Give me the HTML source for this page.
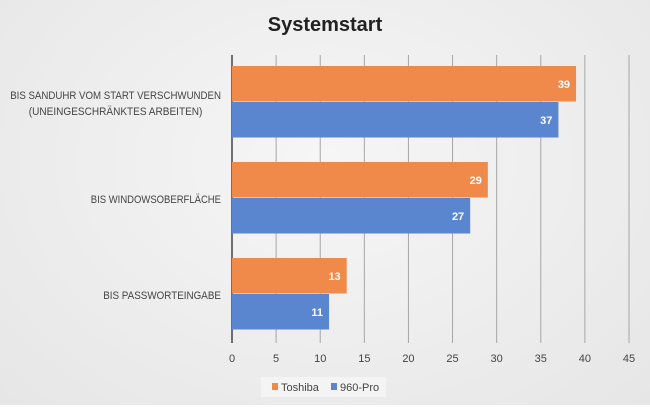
<!DOCTYPE html>
<html><head><meta charset="utf-8"><style>
body{margin:0;width:650px;height:405px;overflow:hidden;font-family:"Liberation Sans",sans-serif}
#c{position:absolute;left:0;top:0;width:650px;height:405px;background:radial-gradient(ellipse at 50% 40%,#f6f6f6 0%,#e6e6e6 100%)}
</style></head><body>
<div id="c">
<svg id="s" width="650" height="405"></svg>
</div>
<script>
const categories=["BIS SANDUHR VOM START VERSCHWUNDEN|(UNEINGESCHRÄNKTES ARBEITEN)","BIS WINDOWSOBERFLÄCHE","BIS PASSWORTEINGABE"];
const toshiba=[39,29,13];
const pro960=[37,27,11];
const ticks=[0,5,10,15,20,25,30,35,40,45];
const NS="http://www.w3.org/2000/svg";
const s=document.getElementById('s');
function mk(t,a,txt){const e=document.createElementNS(NS,t);for(const k in a)e.setAttribute(k,a[k]);if(txt!=null)e.textContent=txt;s.appendChild(e);return e;}
const x0=232,x1=629,yTop=55,yBot=343;
const xs=v=>x0+(v-0)/(45-0)*(x1-x0);
const gh=(yBot-yTop)/categories.length;
let t=mk('text',{x:325,y:31,'text-anchor':'middle','font-size':20,'font-weight':'bold',fill:'#222'},'Systemstart');


ticks.forEach(v=>{
 let l=mk('line',{x1:xs(v),x2:xs(v),y1:yTop,y2:yBot,stroke:v===0?'#444':'#a6a6a6','stroke-width':v===0?1.5:1});
 
 
 let tl=mk('text',{x:xs(v),y:362,'text-anchor':'middle','font-size':11,fill:'#444'},v);
 
 
});
categories.forEach((c,i)=>{
 const gy=yTop+gh*i, bh=35.5, y1=gy+11, y2=y1+bh+0.5;
 [[toshiba[i],y1,'#f08a4b','bar-toshiba'],[pro960[i],y2,'#5a86d0','bar-960-pro']].forEach(([v,y,col,n])=>{
  let r=mk('rect',{x:x0,y:y,width:xs(v)-x0,height:bh,fill:col});
  
  
  let lb=mk('text',{x:xs(v)-6,y:y+bh/2+4,'text-anchor':'end','font-size':11,'font-weight':'bold',fill:'#fff'},v);
  
  
 });
 const lines=c.split('|'), cy=gy+gh/2+4;
 const w1=lines[0].length*6.2;
 lines.forEach((ln,j)=>{
  const w=ln.length*6.2;
  const xr=221-(w1-w)/2*(j>0?1:0);
  let ct=mk('text',{x:xr,y:cy+(j-(lines.length-1)/2)*16,'text-anchor':'end','font-size':11,fill:'#444',textLength:w,lengthAdjust:'spacingAndGlyphs'},ln);
  
  
 });
});
let lg=mk('rect',{x:261,y:377,width:125,height:20,fill:'#f4f4f4'});


[[272,'#f08a4b','Toshiba'],[331,'#5a86d0','960-Pro']].forEach(([x,col,n])=>{
 let sw=mk('rect',{x:x,y:383,width:6,height:7,fill:col});
 
 
 let lt=mk('text',{x:x+9,y:391,'font-size':11,fill:'#444'},n);
 
 
});
</script>
</body></html>
